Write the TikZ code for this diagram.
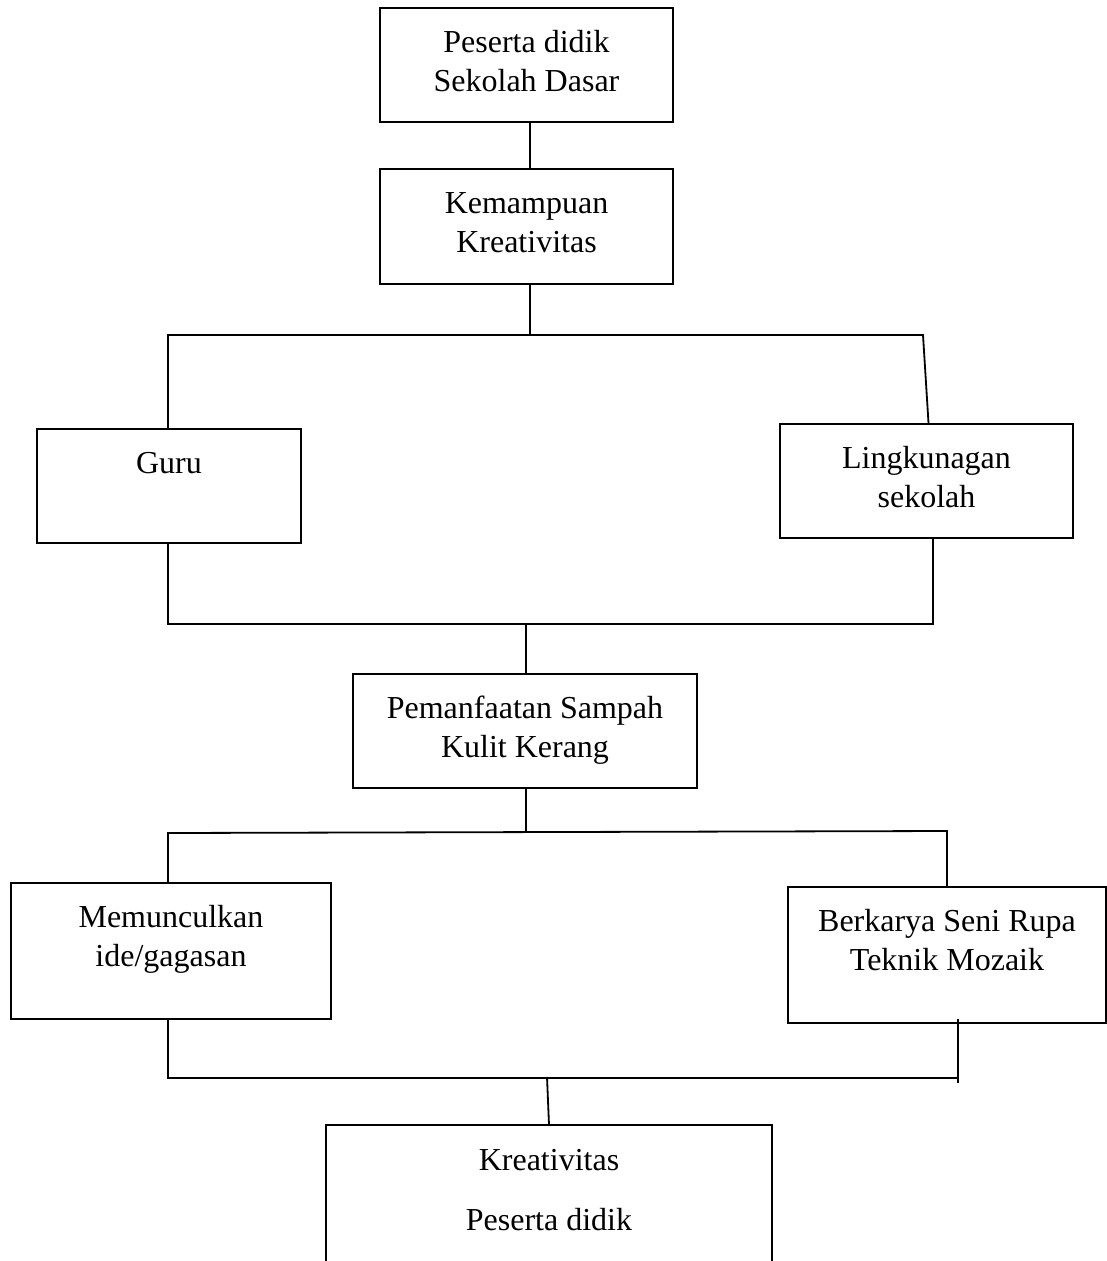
\documentclass[tikz,border=0pt]{standalone}
\usepackage{fontspec}
\setmainfont{Liberation Serif}

\begin{document}
\begin{tikzpicture}[x=1pt,y=-1pt,
  font=\fontsize{32}{39}\selectfont,
  kotak/.style={draw,line width=1.8pt,inner sep=0pt,anchor=north,align=flush center,text height=45pt},
  garis/.style={line width=1.8pt}]
\useasboundingbox (0,0) rectangle (1107,1261);

\node[kotak,text width=293pt,text depth=69pt] (siswa) at (526.5,7) {Peserta didik\\Sekolah Dasar};
\node[kotak,text width=293pt,text depth=70pt] (kemampuan) at (526.5,168) {Kemampuan\\Kreativitas};

\node[kotak,text width=264pt,text depth=69pt] (guru) at (169,428) {Guru};
\node[kotak,text width=293pt,text depth=69pt] (lingkungan) at (926.5,423) {Lingkunagan\\sekolah};

\node[kotak,text width=344pt,text depth=69pt] (sampah) at (525,673) {Pemanfaatan Sampah\\Kulit Kerang};

\node[kotak,text width=320pt,text depth=91pt] (ide) at (171,882) {Memunculkan\\ide/gagasan};
\node[kotak,text width=318pt,text depth=91pt] (mozaik) at (947,886) {Berkarya Seni Rupa\\Teknik Mozaik};

\node[kotak,draw=none,text width=444pt,text depth=92pt] (hasil) at (549,1125) {Kreativitas\\[21pt]Peserta didik};
\draw[garis] (hasil.south west) -- (hasil.north west) -- (hasil.north east) -- (hasil.south east);

% titik cabang
\coordinate (c1) at (530,335);
\coordinate (c1l) at (168,335);
\coordinate (c1r) at (923,335);
\coordinate (c2) at (526,624);
\coordinate (c2l) at (168,624);
\coordinate (c2r) at (933,624);
\coordinate (c3) at (526,833);
\coordinate (c3l) at (168,833);
\coordinate (c3r) at (947,831);
\coordinate (c4) at (547,1077);
\coordinate (c4l) at (168,1078);
\coordinate (c4r) at (958,1078);

\draw[garis] (c1 |- siswa.south) -- (c1 |- kemampuan.north);

\draw[garis] (c1 |- kemampuan.south) -- (c1);
\draw[garis] (c1l |- guru.north) -- (c1l) -- (c1r) -- ([xshift=2pt]lingkungan.north);

\draw[garis] (c2l |- guru.south) -- (c2l) -- (c2r) -- (c2r |- lingkungan.south);
\draw[garis] (c2) -- (c2 |- sampah.north);

\draw[garis] (c3 |- sampah.south) -- (c3);
\draw[garis] (c3l |- ide.north) -- (c3l) -- (c3r) -- (c3r |- mozaik.north);

\draw[garis] (c4l |- ide.south) -- (c4l) -- (c4r) -- ([yshift=5pt]c4r |- mozaik.south);
\draw[garis] (c4r) -- ++(0,5);
\draw[garis] (c4) -- (hasil.north);

\end{tikzpicture}
\end{document}
